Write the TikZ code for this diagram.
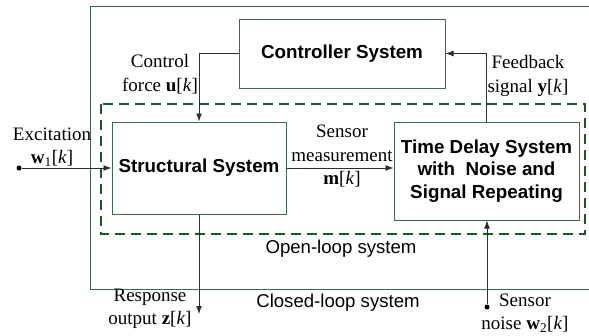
\documentclass[tikz,border=0pt]{standalone}
\usepackage{fontspec}
\setmainfont{Liberation Serif}
\newfontfamily\arialfont{Liberation Sans}
\usetikzlibrary{arrows.meta}
\definecolor{boxgreen}{RGB}{62,105,78}
\definecolor{dashgreen}{RGB}{30,85,45}
\definecolor{wire}{RGB}{45,45,45}
\tikzset{
 block/.style={draw=boxgreen, line width=1pt, fill=white, font=\arialfont\bfseries\fontsize{18.8}{22.5}\selectfont, align=center, inner sep=0},
 wirearr/.style={draw=wire, line width=0.9pt, -{Latex[length=8pt,width=6pt]}},
 lbl/.style={font=\fontsize{19}{23.5}\selectfont, align=center, inner sep=0},
 sflbl/.style={font=\arialfont\fontsize{18.6}{22}\selectfont, inner sep=0},
 dotnode/.style={circle, fill=black, inner sep=0, minimum size=5pt},
}
\begin{document}
\begin{tikzpicture}[x=1pt,y=-1pt]
\useasboundingbox (0,0) rectangle (589,335);
\clip (0,0) rectangle (589,335);
\draw[boxgreen, line width=0.9pt] (90,6) rectangle (600,289);
\draw[dashgreen, line width=1.6pt, dash pattern=on 10pt off 6pt] (101,104) rectangle (585,234);

\node[block, minimum width=206pt, minimum height=69pt] (ctrl) at (342,53.5) {Controller System};
\node[block, minimum width=174pt, minimum height=92pt] (struct) at (199,168) {Structural System};
\node[block, minimum width=185pt, minimum height=98pt] (delay) at (486.5,171) {Time Delay System\\with~ Noise and\\Signal Repeating};

\node[lbl] (ctrllbl) at (160,74) {Control\\force \textbf{u}[\textit{k}]};
\node[lbl] (exlbl) at (52,147) {Excitation\\\textbf{w}\textsubscript{1}[\textit{k}]};
\node[lbl] (senslbl) at (342,156) {Sensor\\measurement\\\textbf{m}[\textit{k}]};
\node[lbl] (fblbl) at (528,76) {Feedback\\signal \textbf{y}[\textit{k}]};
\node[lbl] (resplbl) at (150,309) {Response\\output \textbf{z}[\textit{k}]};
\node[lbl] (noiselbl) at (525,313) {Sensor\\noise \textbf{w}\textsubscript{2}[\textit{k}]};
\node[sflbl] (openlbl) at (341,249) {Open-loop system};
\node[sflbl] (closedlbl) at (338,303) {Closed-loop system};

\node[dotnode] (exdot) at (19,168) {};
\node[dotnode] (noisedot) at (487,307) {};
\coordinate (respend) at (199,314);

\draw[wirearr] (ctrl.west) -| (struct.north);
\draw[wirearr] (delay.north) |- (ctrl.east);
\draw[wirearr] (exdot) -- (struct.west);
\draw[wirearr] (struct.east) -- (struct.east -| delay.west);
\draw[wirearr] (struct.south) -- (respend);
\draw[wirearr] (noisedot) -- (noisedot |- delay.south);
\end{tikzpicture}
\end{document}
